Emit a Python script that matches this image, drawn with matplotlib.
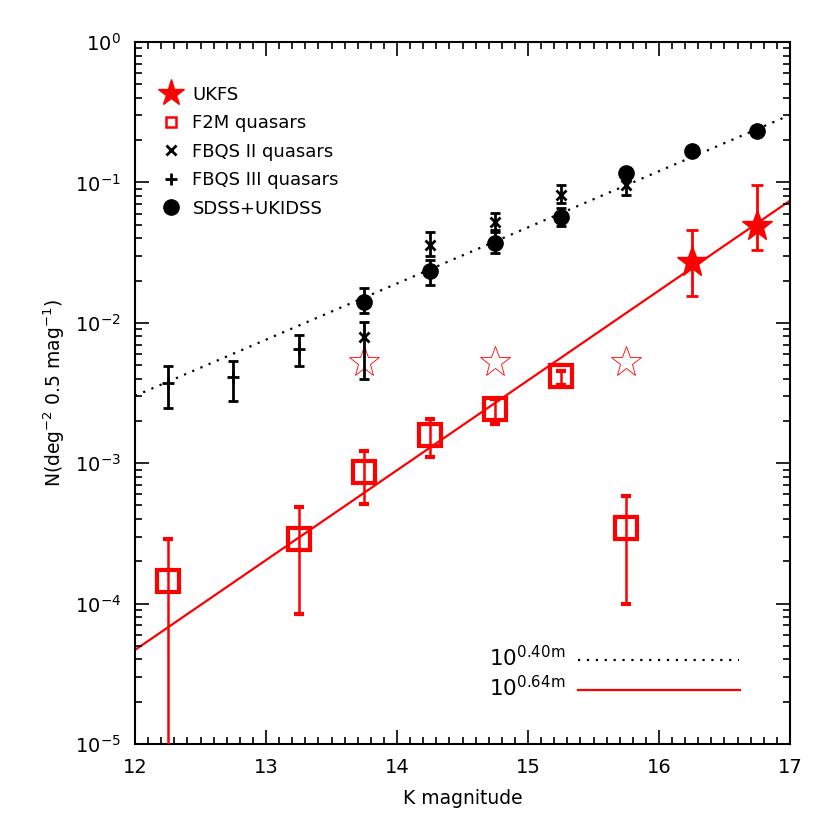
import numpy as np
import matplotlib
matplotlib.use('Agg')
import matplotlib.pyplot as plt
from matplotlib.lines import Line2D

# F2M quasars (open red squares)
f2m_k = [12.25, 13.25, 13.75, 14.25, 14.75, 15.25, 15.75]
f2m_n = [1.45e-4, 2.9e-4, 8.65e-4, 1.58e-3, 2.43e-3, 4.2e-3, 3.45e-4]
f2m_hi = [2.9e-4, 4.9e-4, 1.22e-3, 2.07e-3, 2.86e-3, 4.5e-3, 5.8e-4]
f2m_lo = [1e-7, 8.5e-5, 5.1e-4, 1.1e-3, 1.9e-3, 3.6e-3, 1.0e-4]

# UKFS (filled red stars)
ukfs_k = [16.25, 16.75]
ukfs_n = [0.0271, 0.049]
ukfs_hi = [0.0458, 0.096]
ukfs_lo = [0.0155, 0.033]

# open red stars
open_k = [13.75, 14.75, 15.75]
open_n = [5.25e-3, 5.25e-3, 5.25e-3]

# FBQS II (x)
fb2_k = [13.75, 14.25, 14.75, 15.25, 15.75]
fb2_n = [7.9e-3, 0.0358, 0.0525, 0.0813, 0.0958]
fb2_hi = [0.0101, 0.0443, 0.0605, 0.0958, 0.104]
fb2_lo = [4.0e-3, 0.030, 0.0458, 0.071, 0.081]

# FBQS III (+)
fb3_k = [12.25, 12.75, 13.25]
fb3_n = [3.7e-3, 4.1e-3, 6.5e-3]
fb3_hi = [4.9e-3, 5.35e-3, 8.2e-3]
fb3_lo = [2.47e-3, 2.77e-3, 4.9e-3]

# SDSS+UKIDSS (filled circles)
sdss_k = [13.75, 14.25, 14.75, 15.25, 15.75, 16.25, 16.75]
sdss_n = [0.0141, 0.0235, 0.0372, 0.057, 0.117, 0.1675, 0.233]
sdss_hi = [0.0177, 0.028, 0.044, 0.0657, 0.117, 0.1675, 0.233]
sdss_lo = [0.0117, 0.0186, 0.0314, 0.0488, 0.117, 0.1675, 0.233]

# power-law fits N = 10^(a*m + b)
fit_m = [12.0, 17.0]
slope_black, icpt_black = 0.40, -7.32
slope_red, icpt_red = 0.64, -12.01


def yerr(n, lo, hi):
    n = np.array(n)
    return [n - np.array(lo), np.array(hi) - n]


fig = plt.figure(figsize=(8.3, 8.3), dpi=100)
ax = fig.add_axes([0.1627, 0.1036, 0.7891, 0.8458])
ax.set_yscale('log')

m = np.array(fit_m)
ax.plot(m, 10 ** (slope_black * m + icpt_black), color='black', lw=1.6,
        linestyle=(0, (1, 3)), zorder=1)
ax.plot(m, 10 ** (slope_red * m + icpt_red), color='red', lw=1.6, zorder=1)

# open stars
ax.plot(open_k, open_n, linestyle='none', marker='*', ms=23, mfc='none',
        mec='red', mew=0.6, zorder=2)

# FBQS III
ax.errorbar(fb3_k, fb3_n, yerr=yerr(fb3_n, fb3_lo, fb3_hi), fmt='+', color='black',
            ms=9, mew=2, elinewidth=2, capsize=3.5, capthick=2, zorder=3)
# FBQS II
ax.errorbar(fb2_k, fb2_n, yerr=yerr(fb2_n, fb2_lo, fb2_hi), fmt='x', color='black',
            ms=7, mew=2, elinewidth=2, capsize=3.5, capthick=2, zorder=3)
# SDSS+UKIDSS
ax.errorbar(sdss_k, sdss_n, yerr=yerr(sdss_n, sdss_lo, sdss_hi), fmt='o', color='black',
            ms=11, elinewidth=2, capsize=3.5, capthick=2, zorder=4)
# F2M
ax.errorbar(f2m_k, f2m_n, yerr=yerr(f2m_n, f2m_lo, f2m_hi), fmt='s', color='red',
            ms=16, mfc='none', mew=3, elinewidth=1.8, capsize=3.5, capthick=1.8, zorder=5)
# UKFS
ax.errorbar(ukfs_k, ukfs_n, yerr=yerr(ukfs_n, ukfs_lo, ukfs_hi), fmt='*', color='red',
            ms=23, elinewidth=2, capsize=4, capthick=2, zorder=6)

ax.set_xlim(12, 17)
ax.set_ylim(1e-5, 1)
ax.set_xticks([12, 13, 14, 15, 16, 17])
ax.set_xticks(np.arange(12, 17.01, 0.1), minor=True)
ax.tick_params(which='both', direction='in', top=True, right=True, width=1.2,
               labelsize=14, pad=10)
ax.tick_params(which='major', length=10)
ax.tick_params(which='minor', length=5)
for s in ax.spines.values():
    s.set_linewidth(1.5)

ax.set_xlabel('K magnitude', fontsize=13.5, labelpad=9)
ax.set_ylabel(r'N(deg$^{-2}$ 0.5 mag$^{-1}$)', fontsize=13.5, labelpad=6)

handles = [
    Line2D([], [], ls='none', marker='*', ms=20, color='red'),
    Line2D([], [], ls='none', marker='s', ms=7, mfc='none', mec='red', mew=1.8),
    Line2D([], [], ls='none', marker='x', ms=7, mew=2, color='black'),
    Line2D([], [], ls='none', marker='+', ms=8, mew=2, color='black'),
    Line2D([], [], ls='none', marker='o', ms=11, color='black'),
]
labels = ['UKFS', 'F2M quasars', 'FBQS II quasars', 'FBQS III quasars', 'SDSS+UKIDSS']
ax.legend(handles, labels, loc='upper left', bbox_to_anchor=(0.027, 0.948),
          frameon=False, fontsize=13, handlelength=1.2, handletextpad=0.6,
          labelspacing=0.58, borderaxespad=0)

# fit key
ax.text(0.54, 0.123, r'10$^{0.40\mathrm{m}}$', transform=ax.transAxes, fontsize=15.5,
        va='center', ha='left')
ax.text(0.54, 0.080, r'10$^{0.64\mathrm{m}}$', transform=ax.transAxes, fontsize=15.5,
        va='center', ha='left')
ax.plot([0.676, 0.922], [0.120, 0.120], transform=ax.transAxes, color='black',
        lw=1.6, linestyle=(0, (1, 3)))
ax.plot([0.676, 0.924], [0.077, 0.077], transform=ax.transAxes, color='red', lw=1.6)

fig.savefig('out.png', dpi=100)
